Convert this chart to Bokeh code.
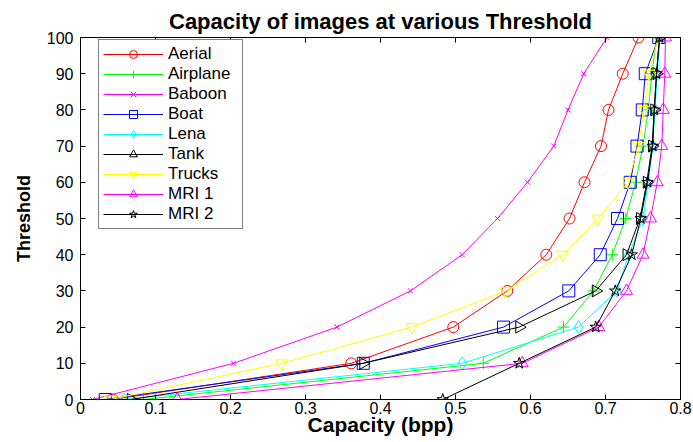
import math
from bokeh.plotting import figure
from bokeh.models import (Range1d, LinearAxis, FixedTicker, Legend, LegendItem,
                          CustomJSTickFormatter, AllLabels)
from bokeh.embed import file_html
from bokeh.resources import INLINE

threshold = [0, 10, 20, 30, 40, 50, 60, 70, 80, 90, 100]
aerial = [0.043, 0.361, 0.497, 0.569, 0.621, 0.652, 0.672, 0.694, 0.704, 0.723, 0.744]
airplane = [0.084, 0.537, 0.644, 0.684, 0.709, 0.727, 0.740, 0.750, 0.757, 0.762, 0.768]
baboon = [0.016, 0.204, 0.342, 0.440, 0.509, 0.556, 0.596, 0.631, 0.650, 0.671, 0.702]
boat = [0.033, 0.377, 0.564, 0.651, 0.693, 0.716, 0.733, 0.742, 0.749, 0.753, 0.771]
lena = [0.058, 0.509, 0.664, 0.715, 0.731, 0.750, 0.757, 0.763, 0.766, 0.769, 0.773]
tank = [0.067, 0.377, 0.585, 0.687, 0.728, 0.746, 0.755, 0.762, 0.765, 0.768, 0.772]
trucks = [0.040, 0.268, 0.442, 0.567, 0.643, 0.690, 0.730, 0.744, 0.751, 0.758, 0.770]
mri1 = [0.129, 0.589, 0.691, 0.728, 0.750, 0.760, 0.769, 0.775, 0.777, 0.779, 0.780]
mri2 = [0.483, 0.585, 0.687, 0.713, 0.735, 0.747, 0.756, 0.763, 0.765, 0.768, 0.772]
x_ticks = [0, 0.1, 0.2, 0.3, 0.4, 0.5, 0.6, 0.7, 0.8]

series = [
    ("Aerial", aerial, "#FF0000", "circle", 11, 0),
    ("Airplane", airplane, "#00FF00", "cross", 12, 0),
    ("Baboon", baboon, "#FF00FF", "x", 7, 0),
    ("Boat", boat, "#0000FF", "square", 12, 0),
    ("Lena", lena, "#00FFFF", "diamond", 13, 0),
    ("Tank", tank, "#000000", "triangle", 12, -math.pi / 2),
    ("Trucks", trucks, "#FFFF00", "inverted_triangle", 12, 0),
    ("MRI 1", mri1, "#FF00FF", "triangle", 12, 0),
    ("MRI 2", mri2, "#000000", "star", 12, 0),
]

FONT = "Liberation Sans"

p = figure(width=693, height=442, x_range=Range1d(0, 0.8), y_range=Range1d(0, 100),
           output_backend="svg", toolbar_location=None,
           title="Capacity of images at various Threshold")
p.min_border_left = 80
p.min_border_right = 13
p.min_border_top = 37
p.min_border_bottom = 43
p.background_fill_color = "white"
p.border_fill_color = "white"
p.outline_line_color = "black"
p.xgrid.visible = False
p.ygrid.visible = False

p.title.text_font = FONT
p.title.text_font_size = "22px"
p.title.text_font_style = "bold"
p.title.align = "center"
p.title.text_color = "black"
p.title.standoff = 7

xt = FixedTicker(ticks=x_ticks)
yt = FixedTicker(ticks=threshold)

for ax, t in ((p.xaxis[0], xt), (p.yaxis[0], yt)):
    ax.ticker = t
    ax.major_label_policy = AllLabels()
    ax.major_tick_in = 5
    ax.major_tick_out = 0
    ax.minor_tick_line_color = None
    ax.axis_line_color = "black"
    ax.major_tick_line_color = "black"
    ax.major_label_text_font = FONT
    ax.major_label_text_font_size = "16px"
    ax.major_label_text_color = "black"
    ax.axis_label_text_font = FONT
    ax.axis_label_text_font_style = "bold"
    ax.axis_label_text_color = "black"

p.xaxis.axis_label = "Capacity (bpp)"
p.yaxis.axis_label = "Threshold"
p.xaxis.axis_label_text_font_size = "21px"
p.yaxis.axis_label_text_font_size = "18px"
p.xaxis.major_label_standoff = 2
p.yaxis.major_label_standoff = 7
p.xaxis.axis_label_standoff = -4
p.yaxis.axis_label_standoff = 10

blank = CustomJSTickFormatter(code="return ''")
top = LinearAxis(ticker=xt, formatter=blank, major_tick_in=5, major_tick_out=0,
                 minor_tick_line_color=None, major_label_text_font_size="1px",
                 major_label_standoff=0, axis_line_color="black")
right = LinearAxis(ticker=yt, formatter=blank, major_tick_in=5, major_tick_out=0,
                   minor_tick_line_color=None, major_label_text_font_size="1px",
                   major_label_standoff=0, axis_line_color="black")
p.add_layout(top, "above")
p.add_layout(right, "right")

items = []
for name, vals, color, marker, size, angle in series:
    r1 = p.line(vals, threshold, line_color=color, line_width=1)
    r2 = p.scatter(vals, threshold, marker=marker, size=size, angle=angle,
                   line_color=color, fill_color=None, line_width=1)
    items.append(LegendItem(label=name, renderers=[r1, r2]))

legend = Legend(items=items, location=(18, 170))
legend.label_text_font = FONT
legend.label_text_font_size = "17px"
legend.label_text_color = "black"
legend.glyph_width = 60
legend.glyph_height = 20
legend.label_height = 20
legend.label_width = 70
legend.spacing = 0
legend.padding = 4
legend.margin = 0
legend.label_standoff = 5
legend.border_line_color = "black"
legend.border_line_width = 1
legend.background_fill_color = "white"
legend.background_fill_alpha = 1
p.add_layout(legend)

open("out.html", "w").write(file_html(p, INLINE))
